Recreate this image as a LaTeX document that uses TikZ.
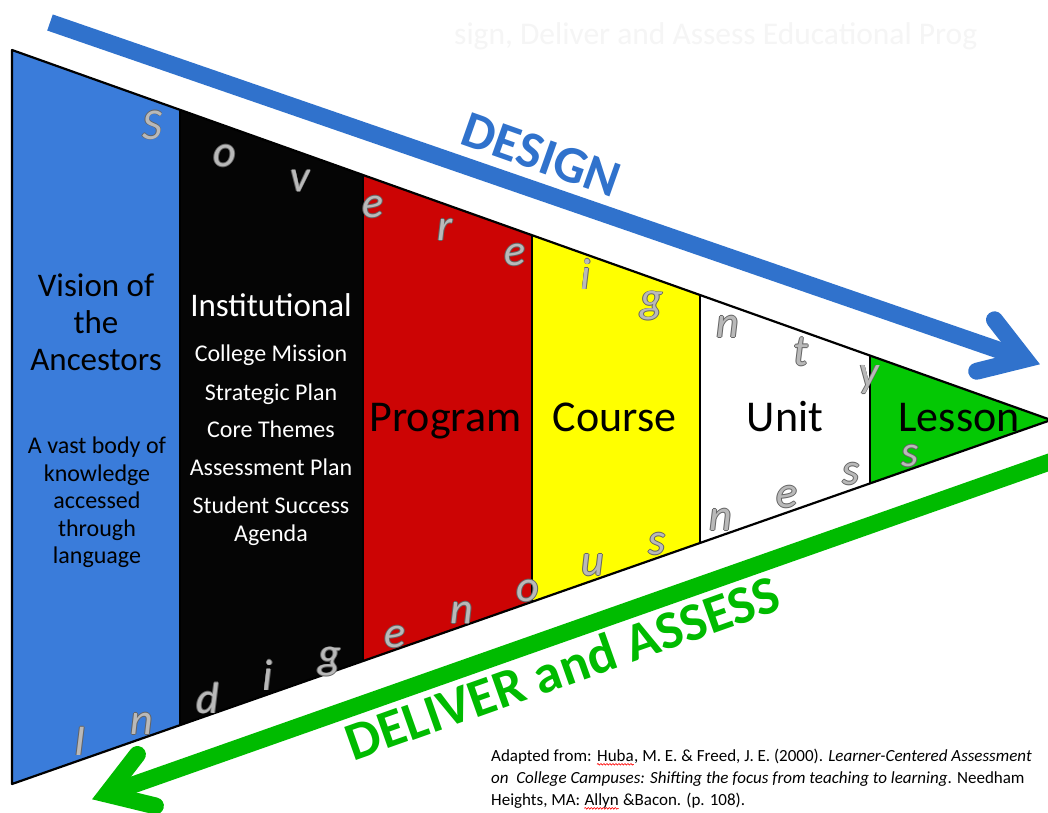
\documentclass[tikz,border=0pt]{standalone}
\usepackage{fontspec}
\setmainfont{Carlito}
\usetikzlibrary{decorations.pathmorphing}
\definecolor{stripblue}{RGB}{58,124,218}
\definecolor{stripblack}{RGB}{5,5,5}
\definecolor{stripred}{RGB}{204,4,4}
\definecolor{stripyellow}{RGB}{255,255,0}
\definecolor{stripgreen}{RGB}{4,200,4}
\definecolor{arrowblue}{RGB}{48,114,204}
\definecolor{arrowgreen}{RGB}{0,187,0}
\definecolor{letfill}{RGB}{185,185,185}
\definecolor{letedge}{RGB}{100,100,100}
\definecolor{faint}{RGB}{245,245,245}
\newcommand\olt[1]{\leavevmode\rlap{\color{letedge}\kern.8pt#1}\rlap{\color{letedge}\kern-.8pt#1}\rlap{\color{letedge}\raise.8pt\hbox{#1}}\rlap{\color{letedge}\lower.8pt\hbox{#1}}#1}
\tikzset{
  trioutline/.style={line width=2.2pt, black, line join=round},
  lbl/.style={inner sep=0pt, anchor=base},
  bigtxt/.style={lbl, font=\fontsize{33}{36}\selectfont},
  smalltxt/.style={lbl, font=\fontsize{24}{27}\selectfont},
  stagetxt/.style={lbl, font=\fontsize{44}{44}\selectfont},
  letterstyle/.style={inner sep=0pt, anchor=center, text=letfill, font=\fontsize{44}{44}\selectfont\itshape},
  shaft/.style={line width=17pt, line cap=butt},
  head/.style={line width=17pt, line cap=round, line join=miter},
  citetxt/.style={inner sep=0pt, anchor=base west, font=\fontsize{17}{21}\selectfont},
  wavy/.style={draw=red, line width=0.6pt, decorate, decoration={snake, segment length=3pt, amplitude=0.8pt}}
}
\begin{document}
\begin{tikzpicture}[x=1pt,y=-1pt]
\useasboundingbox (0,0) rectangle (1048,812);
\fill[white] (0,0) rectangle (1048,812);
% faint title
\node[inner sep=0pt, anchor=base west, text=faint, font=\fontsize{31.5}{31.5}\selectfont] (title) at (454,44.6) {sign, Deliver and Assess Educational Prog};
% triangle coordinates
\coordinate (t0) at (12,50);    \coordinate (b0) at (12,784);
\coordinate (t1) at (180,109.83); \coordinate (b1) at (180,725.14);
\coordinate (t2) at (363,175.0);  \coordinate (b2) at (363,661.03);
\coordinate (t3) at (532,235.18); \coordinate (b3) at (532,601.82);
\coordinate (t4) at (700,295.0);  \coordinate (b4) at (700,542.97);
\coordinate (t5) at (870,355.54); \coordinate (b5) at (870,483.41);
\coordinate (tip) at (1051,420);
\fill[stripblue] (t0) -- (t1) -- (b1) -- (b0) -- cycle;
\fill[stripblack] (t1) -- (t2) -- (b2) -- (b1) -- cycle;
\fill[stripred] (t2) -- (t3) -- (b3) -- (b2) -- cycle;
\fill[stripyellow] (t3) -- (t4) -- (b4) -- (b3) -- cycle;
\fill[white] (t4) -- (t5) -- (b5) -- (b4) -- cycle;
\fill[stripgreen] (t5) -- (tip) -- (b5) -- cycle;
\draw[trioutline] (t0) -- (tip) -- (b0) -- cycle;
\draw[trioutline] (t1) -- (b1) (t2) -- (b2) (t3) -- (b3) (t4) -- (b4) (t5) -- (b5);
% blue strip text
\node[bigtxt] (v1) at (96,296.7) {Vision of};
\node[bigtxt] (v2) at (96,333.3) {the};
\node[bigtxt] (v3) at (96,370) {Ancestors};
\node[smalltxt] (a1) at (97,453.3) {A vast body of};
\node[smalltxt] (a2) at (97,481) {knowledge};
\node[smalltxt] (a3) at (97,508.3) {accessed};
\node[smalltxt] (a4) at (97,536) {through};
\node[smalltxt] (a5) at (97,563.3) {language};
% black strip text
\node[bigtxt, text=white] (i0) at (271,316.7) {Institutional};
\node[smalltxt, text=white] (i1) at (271,361.7) {College Mission};
\node[smalltxt, text=white] (i2) at (271,400) {Strategic Plan};
\node[smalltxt, text=white] (i3) at (271,437.7) {Core Themes};
\node[smalltxt, text=white] (i4) at (271,475) {Assessment Plan};
\node[smalltxt, text=white] (i5) at (271,513.3) {Student Success};
\node[smalltxt, text=white] (i6) at (271,541.7) {Agenda};
% stage labels
\node[stagetxt] (program) at (445.5,431.7) {Program};
\node[stagetxt] (course) at (614.5,431.7) {Course};
\node[stagetxt] (unit) at (785,431.7) {Unit};
\node[stagetxt] (lesson) at (959,431.7) {Lesson};
% Sovereignty
\node[letterstyle] (s1) at (152,125) {\olt{S}};
\node[letterstyle] (s2) at (225,156) {\olt{o}};
\node[letterstyle] (s3) at (300,181) {\olt{v}};
\node[letterstyle] (s4) at (373,207) {\olt{e}};
\node[letterstyle] (s5) at (445,230) {\olt{r}};
\node[letterstyle] (s6) at (515,255) {\olt{e}};
\node[letterstyle] (s7) at (586,274) {\olt{i}};
\node[letterstyle] (s8) at (652,306) {\olt{g}};
\node[letterstyle] (s9) at (728,327) {\olt{n}};
\node[letterstyle] (s10) at (801,352) {\olt{t}};
\node[letterstyle] (s11) at (869,380) {\olt{y}};
% Indigenousness
\node[letterstyle] (n1) at (80,741) {\olt{I}};
\node[letterstyle] (n2) at (142,724) {\olt{n}};
\node[letterstyle] (n3) at (208,698) {\olt{d}};
\node[letterstyle] (n4) at (268,675) {\olt{i}};
\node[letterstyle] (n5) at (330,662) {\olt{g}};
\node[letterstyle] (n6) at (395,637) {\olt{e}};
\node[letterstyle] (n7) at (462,613) {\olt{n}};
\node[letterstyle] (n8) at (528,591) {\olt{o}};
\node[letterstyle] (n9) at (593,565) {\olt{u}};
\node[letterstyle] (n10) at (657,544) {\olt{s}};
\node[letterstyle] (n11) at (721,520) {\olt{n}};
\node[letterstyle] (n12) at (787,497) {\olt{e}};
\node[letterstyle] (n13) at (851,474) {\olt{s}};
\node[letterstyle] (n14) at (910,456) {\olt{s}};
% DESIGN arrow
\coordinate (bs) at (50,22.5);
\coordinate (bv) at (1025.2,359.2);
\coordinate (bu) at (994.5,319.8);
\coordinate (bl) at (976.7,371.2);
\draw[shaft, arrowblue] (bs) -- (bv);
\draw[head, arrowblue] (bu) -- (bv) -- (bl);
% DELIVER arrow
\coordinate (gs) at (1060,458.3);
\coordinate (gv) at (106.8,794.1);
\coordinate (gu) at (137.4,754.5);
\coordinate (gl) at (155.4,805.9);
\draw[shaft, arrowgreen] (gs) -- (gv);
\draw[head, arrowgreen] (gu) -- (gv) -- (gl);
% arrow labels
\node[inner sep=0pt, rotate=-19.5, text=arrowblue, font=\fontsize{52}{52}\selectfont\bfseries] (design) at (541.5,155) {DESIGN};
\node[inner sep=0pt, rotate=19.5, text=arrowgreen, font=\fontsize{54}{54}\selectfont\bfseries] (deliver) at (562.5,667.5) {DELIVER and ASSESS};
% citation
\node[citetxt] (c1a) at (491,761.5) {Adapted from: \mbox{}};
\node[citetxt] (c1b) at (c1a.base east) {Huba};
\node[citetxt] (c1c) at (c1b.base east) {, M. E. \& Freed, J. E. (2000). \textit{Learner-Centered Assessment}};
\node[citetxt] (c2) at (491,783.5) {\textit{on\ \ College Campuses: Shifting the focus from teaching to learning}. Needham};
\node[citetxt] (c3a) at (491,805.5) {Heights, MA: \mbox{}};
\node[citetxt] (c3b) at (c3a.base east) {Allyn};
\node[citetxt] (c3c) at (c3b.base east) {\ \&Bacon. (p. 108).};
\draw[wavy] ([yshift=-2.8pt]c1b.base west) -- ([yshift=-2.8pt]c1b.base east);
\draw[wavy] ([yshift=-2.8pt]c3b.base west) -- ([yshift=-2.8pt]c3b.base east);
\end{tikzpicture}
\end{document}
